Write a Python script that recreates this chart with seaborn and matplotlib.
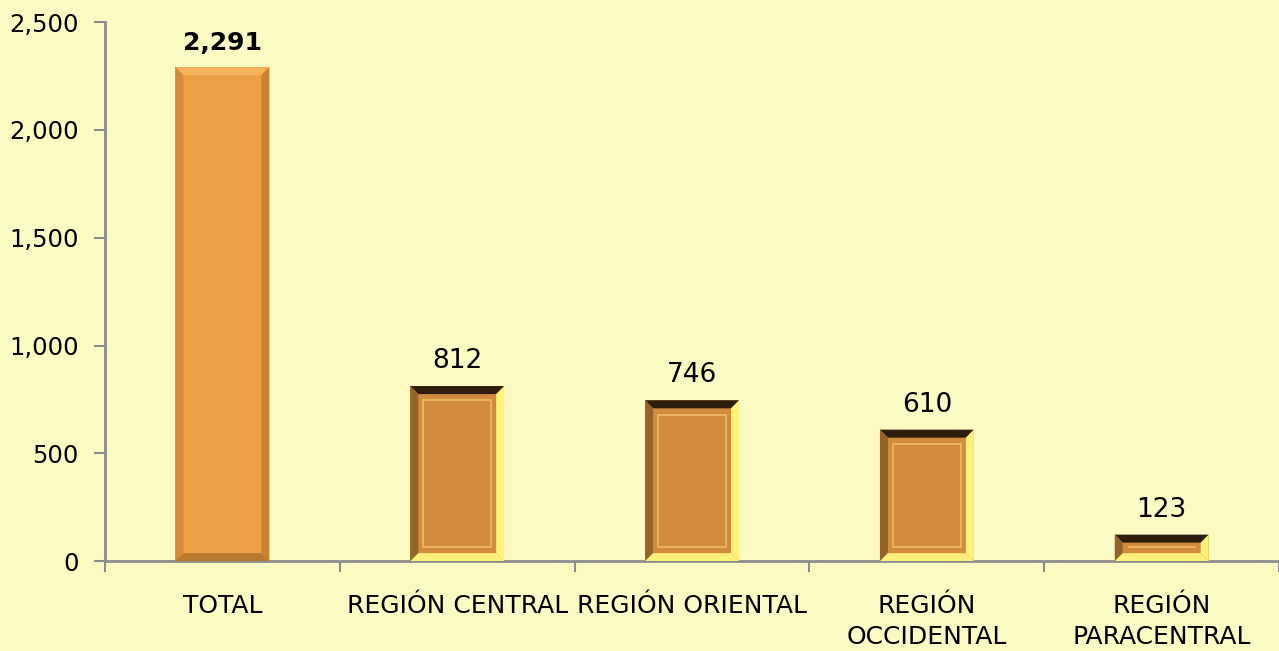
import numpy as np
import pandas as pd
import matplotlib
matplotlib.use("Agg")
import matplotlib.pyplot as plt
from matplotlib.patches import Polygon, Rectangle
import seaborn as sns

categories = ["TOTAL", "REGIÓN CENTRAL", "REGIÓN ORIENTAL", "REGIÓN\nOCCIDENTAL", "REGIÓN\nPARACENTRAL"]
values = [2291, 812, 746, 610, 123]
value_labels = ["2,291", "812", "746", "610", "123"]

BG = "#FCFAC3"
TOTAL_COLOR = "#EBA046"
REGION_COLOR = "#D18B3B"

df = pd.DataFrame({"region": categories, "count": values})

sns.set_theme(style="white")
plt.rcParams["font.family"] = ["DejaVu Sans"]

fig = plt.figure(figsize=(12.79, 6.51), dpi=100, facecolor=BG)
ax = fig.add_axes([0.0821, 0.138, 0.918, 0.828], facecolor=BG)

palette = [TOTAL_COLOR] + [REGION_COLOR] * 4
sns.barplot(data=df, x="region", y="count", hue="region", palette=palette,
            legend=False, width=0.4, ax=ax, saturation=1, edgecolor="none")

ax.set_ylim(0, 2500)
ax.set_xlim(-0.5, len(categories) - 0.5)
ax.set_yticks(range(0, 2501, 500))
ax.set_yticklabels([f"{v:,}" for v in range(0, 2501, 500)])

# bevel sizes in data units (about 8 px)
bw = 8 / (ax.get_position().width * fig.get_figwidth() * fig.dpi) * len(categories)
bh = 8 / (ax.get_position().height * fig.get_figheight() * fig.dpi) * 2500


def bevel(ax, x0, x1, y1, top, left, right, bottom):
    y0 = 0
    ax.add_patch(Polygon([(x0, y1), (x1, y1), (x1 - bw, y1 - bh), (x0 + bw, y1 - bh)],
                         closed=True, facecolor=top, edgecolor="none", zorder=3))
    ax.add_patch(Polygon([(x0, y0), (x0, y1), (x0 + bw, y1 - bh), (x0 + bw, y0 + bh)],
                         closed=True, facecolor=left, edgecolor="none", zorder=3))
    ax.add_patch(Polygon([(x1, y0), (x1, y1), (x1 - bw, y1 - bh), (x1 - bw, y0 + bh)],
                         closed=True, facecolor=right, edgecolor="none", zorder=3))
    ax.add_patch(Polygon([(x0, y0), (x1, y0), (x1 - bw, y0 + bh), (x0 + bw, y0 + bh)],
                         closed=True, facecolor=bottom, edgecolor="none", zorder=3))


for i, bar in enumerate(ax.patches[:len(values)]):
    x0 = bar.get_x()
    x1 = x0 + bar.get_width()
    h = bar.get_height()
    if i == 0:
        bevel(ax, x0, x1, h, "#F3B35A", "#D58B37", "#C98232", "#B97A2E")
    else:
        bevel(ax, x0, x1, h, "#2E1D0C", "#94622B", "#FFF27A", "#FFF07C")
        # inner frame line
        ax.add_patch(Rectangle((x0 + 1.6 * bw, 1.8 * bh), (x1 - x0) - 3.2 * bw,
                               max(h - 3.6 * bh, 0), fill=False,
                               edgecolor="#E9B560", linewidth=1.4, zorder=3))
    ax.text(bar.get_x() + bar.get_width() / 2, h + 55, value_labels[i],
            ha="center", va="bottom", fontsize=18 if i == 0 else 19, color="black",
            fontweight="bold" if i == 0 else "normal")

sns.despine(ax=ax, top=True, right=True)
for side in ("left", "bottom"):
    ax.spines[side].set_color("#8C8C8C")
    ax.spines[side].set_linewidth(2)

ax.set_xticks(np.arange(-0.5, len(categories)), minor=True)
ax.tick_params(axis="x", which="minor", length=8, width=1.5, color="#8C8C8C", bottom=True)
ax.tick_params(axis="x", which="major", length=0, labelsize=18, pad=24, labelcolor="black")
ax.tick_params(axis="y", length=8, width=1.5, color="#8C8C8C", labelsize=17.5,
               left=True, labelcolor="black", pad=11)
for lbl in ax.get_xticklabels():
    lbl.set_linespacing(1.35)
ax.set_xlabel("")
ax.set_ylabel("")
ax.grid(False)

fig.savefig("out.png", dpi=100, facecolor=BG)
